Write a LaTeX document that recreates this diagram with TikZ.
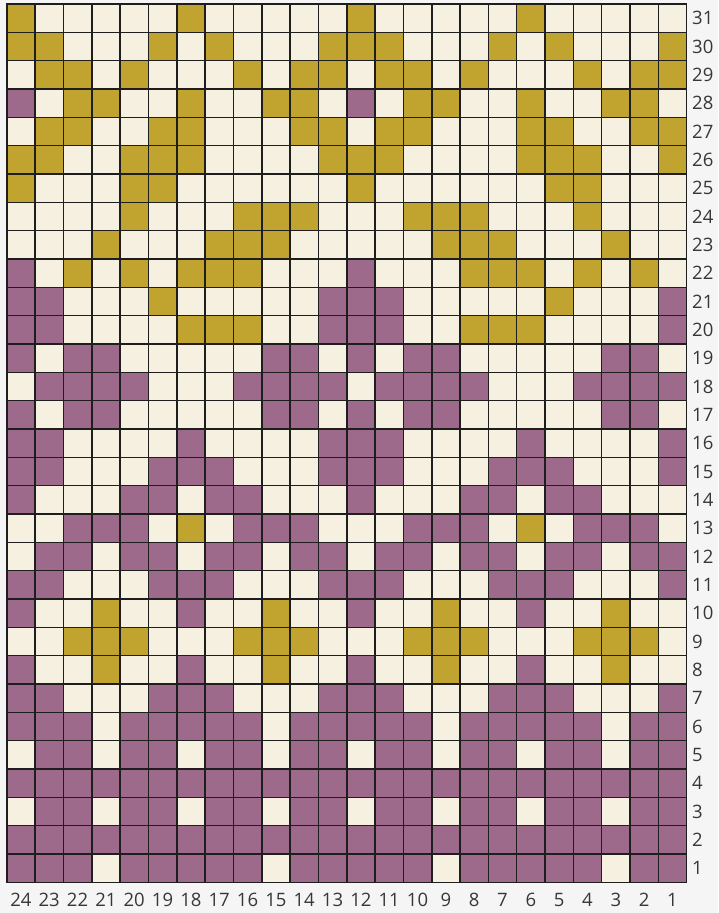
\documentclass[tikz,border=0pt]{standalone}
\usepackage{fontspec}
\setmainfont{Open Sans}
\definecolor{cY}{RGB}{193,163,48}
\definecolor{cC}{RGB}{246,240,225}
\definecolor{cP}{RGB}{158,106,140}
\definecolor{bgc}{RGB}{245,245,245}
\definecolor{linec}{RGB}{30,30,30}
\definecolor{labc}{RGB}{55,55,55}
\begin{document}
\begin{tikzpicture}[x=1pt,y=-1pt,
  lab/.style={font=\fontsize{18.5}{20}\selectfont, text=labc, inner sep=0pt},
  gridline/.style={linec, line width=1.6pt}]
\fill[bgc] (0,0) rectangle (718,913);
\useasboundingbox (0,0) rectangle (718,913);
\def\cs{28.333}
\foreach \row [count=\i] in {
 {Y,C,C,C,C,C,Y,C,C,C,C,C,Y,C,C,C,C,C,Y,C,C,C,C,C},
 {Y,Y,C,C,C,Y,C,Y,C,C,C,Y,Y,Y,C,C,C,Y,C,Y,C,C,C,Y},
 {C,Y,Y,C,Y,C,C,C,Y,C,Y,Y,C,Y,Y,C,Y,C,C,C,Y,C,Y,Y},
 {P,C,Y,Y,C,C,Y,C,C,Y,Y,C,P,C,Y,Y,C,C,Y,C,C,Y,Y,C},
 {C,Y,Y,C,C,Y,Y,C,C,C,Y,Y,C,Y,Y,C,C,C,Y,Y,C,C,Y,Y},
 {Y,Y,C,C,Y,Y,Y,C,C,C,C,Y,Y,Y,C,C,C,C,Y,Y,Y,C,C,Y},
 {Y,C,C,C,Y,Y,C,C,C,C,C,C,Y,C,C,C,C,C,C,Y,Y,C,C,C},
 {C,C,C,C,Y,C,C,C,Y,Y,Y,C,C,C,Y,Y,Y,C,C,C,Y,C,C,C},
 {C,C,C,Y,C,C,C,Y,Y,Y,C,C,C,C,C,Y,Y,Y,C,C,C,Y,C,C},
 {P,C,Y,C,Y,C,Y,Y,Y,C,C,C,P,C,C,C,Y,Y,Y,C,Y,C,Y,C},
 {P,P,C,C,C,Y,C,C,C,C,C,P,P,P,C,C,C,C,C,Y,C,C,C,P},
 {P,P,C,C,C,C,Y,Y,Y,C,C,P,P,P,C,C,Y,Y,Y,C,C,C,C,P},
 {P,C,P,P,C,C,C,C,C,P,P,C,P,C,P,P,C,C,C,C,C,P,P,C},
 {C,P,P,P,P,C,C,C,P,P,P,P,C,P,P,P,P,C,C,C,P,P,P,P},
 {P,C,P,P,C,C,C,C,C,P,P,C,P,C,P,P,C,C,C,C,C,P,P,C},
 {P,P,C,C,C,C,P,C,C,C,C,P,P,P,C,C,C,C,P,C,C,C,C,P},
 {P,P,C,C,C,P,P,P,C,C,C,P,P,P,C,C,C,P,P,P,C,C,C,P},
 {P,C,C,C,P,P,C,P,P,C,C,C,P,C,C,C,P,P,C,P,P,C,C,C},
 {C,C,P,P,P,C,Y,C,P,P,P,C,C,C,P,P,P,C,Y,C,P,P,P,C},
 {C,P,P,C,P,P,C,P,P,C,P,P,C,P,P,C,P,P,C,P,P,C,P,P},
 {P,P,C,C,C,P,P,P,C,C,C,P,P,P,C,C,C,P,P,P,C,C,C,P},
 {P,C,C,Y,C,C,P,C,C,Y,C,C,P,C,C,Y,C,C,P,C,C,Y,C,C},
 {C,C,Y,Y,Y,C,C,C,Y,Y,Y,C,C,C,Y,Y,Y,C,C,C,Y,Y,Y,C},
 {P,C,C,Y,C,C,P,C,C,Y,C,C,P,C,C,Y,C,C,P,C,C,Y,C,C},
 {P,P,C,C,C,P,P,P,C,C,C,P,P,P,C,C,C,P,P,P,C,C,C,P},
 {P,P,P,C,P,P,P,P,P,C,P,P,P,P,P,C,P,P,P,P,P,C,P,P},
 {C,P,P,C,P,P,C,P,P,C,P,P,C,P,P,C,P,P,C,P,P,C,P,P},
 {P,P,P,P,P,P,P,P,P,P,P,P,P,P,P,P,P,P,P,P,P,P,P,P},
 {C,P,P,C,P,P,C,P,P,C,P,P,C,P,P,C,P,P,C,P,P,C,P,P},
 {P,P,P,P,P,P,P,P,P,P,P,P,P,P,P,P,P,P,P,P,P,P,P,P},
 {P,P,P,C,P,P,P,P,P,C,P,P,P,P,P,C,P,P,P,P,P,C,P,P}} {
  \foreach \c [count=\j] in \row {
    \fill[c\c] ({6.7+(\j-1)*\cs},{4+(\i-1)*\cs}) rectangle ++(\cs,\cs);
  }
}
\foreach \k in {0,...,24}
  \draw[gridline] ({6.7+\k*\cs},3.2) -- ({6.7+\k*\cs},{4.8+31*\cs});
\foreach \k in {0,...,31}
  \draw[gridline] (5.9,{4+\k*\cs}) -- ({7.5+24*\cs},{4+\k*\cs});
\foreach \r in {1,...,31}
  \node[lab, anchor=west] (r\r) at (692,{4+(31-\r+0.5)*\cs}) {\r};
\foreach \c in {1,...,24}
  \node[lab] (c\c) at ({6.7+(24-\c+0.5)*\cs},900) {\c};
\end{tikzpicture}
\end{document}
